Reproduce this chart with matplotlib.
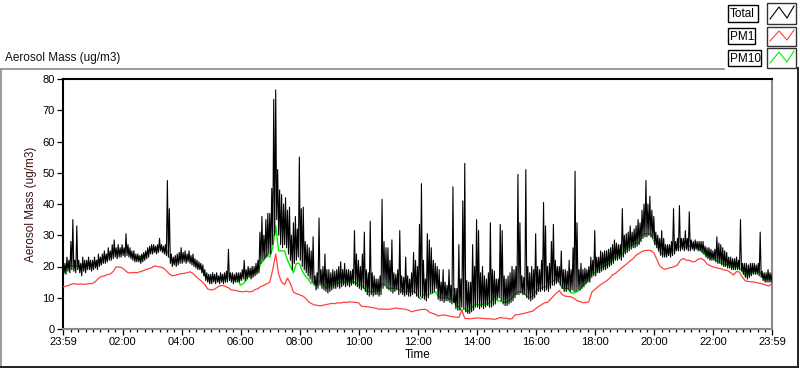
import numpy as np
import matplotlib
matplotlib.use("Agg")
import matplotlib.pyplot as plt
from matplotlib.patches import Rectangle
from matplotlib.lines import Line2D

plt.rcParams['font.family'] = ['Liberation Sans', 'DejaVu Sans']

# ---------------- data ----------------
# Total, upper values: one every 4 minutes from 23:59 (15 per hour) + final point
total_hi = [
    22, 21, 23, 22, 28, 35, 22, 33, 22, 21, 23, 22, 22, 23, 22,
    22, 23, 22, 24, 23, 24, 25, 24, 26, 25, 27, 28.5, 26, 27, 26,
    27, 26, 30.5, 27, 26, 25, 25, 24, 24, 23.5, 24, 24.5, 25, 26, 26.5,
    27, 27, 26.5, 27, 29, 27, 26.5, 27, 47.5, 38.5, 24, 23, 23.5, 24, 24.5,
    26, 24.5, 25, 24, 25, 23.5, 24, 22.5, 22, 21.5, 21, 20.5, 19, 18, 17.5,
    17.5, 18, 17.5, 18, 17, 18, 17.5, 18, 18.5, 25.5, 18, 18, 17.5, 18, 18,
    18, 19, 22, 19, 20, 19.5, 20, 20, 21, 22, 31, 36, 30, 35, 37,
    37, 45, 73.5, 76.5, 51, 44.5, 43, 40, 42, 38, 39, 30, 34, 36, 32,
    55, 38.5, 39, 28, 27, 26, 25, 29.5, 17, 18, 35.5, 19, 20, 24, 19,
    19, 18, 19, 18.5, 19, 20, 21.5, 19, 21, 19, 19, 18.5, 19, 31.5, 24,
    22, 20, 24, 31, 19, 18, 34.5, 18, 17, 16, 16, 17, 41.5, 28, 26,
    26, 22, 28.5, 18, 17.5, 19, 31.5, 17, 16.5, 23, 17, 16, 18, 24.5, 22,
    20, 33.5, 46.5, 22, 16, 30.5, 28.5, 26, 22, 21, 20, 19, 15, 19, 15,
    14, 19, 14, 45.5, 13, 13, 27, 16, 41, 53, 15.5, 15, 15, 27, 20,
    35, 31.5, 18, 20, 17, 16, 18, 34, 19, 18.5, 16, 16, 33.5, 31.5, 17,
    16, 17, 18, 20, 19, 20, 49.5, 34, 17, 16.5, 51, 20, 18, 20, 19,
    30.5, 20, 19, 22, 40.5, 33, 20, 21, 28, 33.5, 22, 20, 20, 25, 19,
    19, 18.5, 22, 19, 26, 50.5, 34, 19, 21, 19, 19.5, 19, 20, 23, 22,
    31.5, 23, 23, 25, 24.5, 25, 25, 25.5, 26, 27, 28.5, 27.5, 27, 27, 38.5,
    30, 30.5, 31, 33, 31, 32, 33, 35, 34, 38, 40, 47.5, 40, 42.5, 38,
    36, 31, 30, 29, 31.5, 29, 27, 27, 27, 28, 38.5, 28, 29, 39.5, 29,
    29, 31.5, 29, 37.5, 28.5, 28, 28.5, 28, 28, 28, 28, 26.5, 26, 26, 25.5,
    25, 25.5, 29.5, 27.5, 27, 26, 25, 24.5, 23, 23, 22.5, 22.5, 23, 22, 35,
    21, 21, 21, 20.5, 21, 21, 21, 20.5, 21, 31, 18.5, 18, 18, 19, 18,
    17.5,
]

# Total, lower values: one every 4 minutes, 2 minutes after each upper value
total_lo = [
    18, 17.5, 18.5, 18, 19, 18.5, 18, 19, 18, 17, 18.5, 18, 19, 19, 18.5,
    19, 19.5, 19, 20, 20.5, 21, 21, 21.5, 22, 22, 22.5, 23, 22.5, 23, 23,
    23.5, 23, 23.5, 23, 22.5, 22, 21.5, 21.5, 21.5, 21, 21.5, 22, 22.5, 23, 24,
    24, 24.5, 24, 24.5, 25, 24.5, 24, 23.5, 23, 21, 20, 20.5, 20, 20.5, 21,
    21, 21.5, 21, 21.5, 21, 20.5, 20, 19.5, 19, 19, 18, 17, 15.5, 15, 14.5,
    14.5, 15, 14.5, 15, 14.5, 15, 14.5, 15, 15, 15.5, 15, 14.5, 15, 15, 15,
    15.5, 16, 15.5, 16, 16.5, 16, 16.5, 17, 17.5, 18, 21, 22, 22.5, 23, 24,
    24, 27, 30, 35, 30, 27, 26, 27, 26, 24, 22, 19, 21, 22, 23,
    22, 20, 19, 18, 17, 16, 15, 14, 12.5, 13, 14, 13, 12.5, 12, 11.5,
    12, 12.5, 13, 13, 13.5, 13, 13.5, 14, 13.5, 14, 13.5, 14, 14.5, 14, 13.5,
    13, 12.5, 13, 12, 11, 10.5, 11, 10.5, 11, 11, 10.5, 11, 13, 14, 13,
    12.5, 12, 11.5, 12, 12.5, 11, 11.5, 11, 10.5, 11, 10.5, 10.5, 11, 11.5, 10.5,
    10, 10.5, 10, 9.5, 9, 10, 11.5, 11.5, 12, 13, 9.5, 9, 9, 8.5, 9,
    9, 8.5, 8, 8.5, 6.5, 6, 6, 7, 6.5, 5.5, 5, 5, 5.5, 6, 7,
    7, 6.5, 7, 6.5, 7, 7.5, 7, 7, 7.5, 8, 9.5, 10, 9, 8, 7.5,
    7.5, 8, 8.5, 9, 10, 11, 11, 11.5, 11, 11, 10, 9.5, 9, 9.5, 10,
    11, 12, 12, 12.5, 12, 12.5, 12, 13, 14, 14, 14.5, 15, 14, 13, 12,
    12, 12.5, 12, 12.5, 12, 12, 12.5, 12.5, 13, 13.5, 14.5, 15, 15, 16.5, 17,
    17, 18, 18, 18.5, 19, 19, 19.5, 20, 20.5, 21, 22, 22, 22.5, 22, 23,
    24, 24.5, 25, 25.5, 26, 26, 26.5, 27, 28, 29, 29.5, 29.5, 30, 29.5, 29,
    27, 26, 25, 23.5, 23, 23, 23, 23.5, 23, 23.5, 24, 25, 25, 25, 25.5,
    25, 25.5, 25, 25, 25.5, 25, 25.5, 25, 25, 24.5, 24, 23, 22.5, 22, 22,
    22, 21.5, 21, 21, 20.5, 20, 20, 19.5, 19.5, 19, 19, 19, 19, 19, 18.5,
    17.5, 16.5, 16, 16.5, 17, 17.5, 17.5, 17.5, 17, 16.5, 15.5, 15, 15, 15, 15,
]

# PM10: one value every 6 minutes (10 per hour) + final point
pm10 = [
    17, 20, 20.5, 20, 20.5, 20, 20.5, 20, 20.5, 20.5,
    21, 21.5, 22, 22.5, 23, 23.5, 24, 24.5, 24.5, 24.5,
    25, 25, 24.5, 23.5, 23, 23, 23, 23.5, 24, 25,
    25.5, 26, 26, 26, 26, 25.5, 23, 22, 22, 22.5,
    22.5, 23, 22.5, 22, 21.5, 21, 20, 19, 17, 16.5,
    16.5, 16.8, 16.3, 16.6, 16.4, 16.8, 17, 16.5, 16.7, 16.6,
    14, 14.5, 15.5, 18, 18.5, 18, 18.5, 21, 22, 24,
    23, 26, 33, 25, 25, 25, 22, 20, 18, 21,
    21, 18.5, 17, 16, 14.5, 15, 14, 15.5, 14.5, 13,
    13.5, 14, 14.5, 14.5, 15, 15, 15, 15.5, 15, 15,
    14, 14, 13, 12, 12, 12, 12, 12.5, 14.5, 14,
    13, 13, 13, 13, 12.5, 12, 12, 12, 12, 12,
    11, 9.5, 11, 11, 11, 11.5, 12, 10.5, 10, 10,
    10, 9.5, 9.5, 7.5, 7, 6, 6.5, 5.5, 6.5, 7.5,
    8, 7.5, 8, 8, 8, 9, 10.5, 9, 9, 8.5,
    8.5, 9, 10, 11, 12, 12, 11.5, 10.5, 10, 10.5,
    12, 13, 13, 13.5, 13.5, 15, 15.5, 16, 15, 13,
    13, 13, 11.5, 11.5, 12, 12.5, 14, 14.5, 16.5, 18,
    18, 19, 19.5, 20, 20.5, 21, 22.5, 23, 23.5, 23.5,
    25, 26, 26.5, 27, 27.5, 27.5, 30, 30.5, 30.5, 30.5,
    28, 26.5, 24.5, 24, 24, 24.5, 24.5, 25.5, 26, 26.5,
    26.5, 26, 26.5, 26.5, 26, 26, 25, 24, 23.5, 23,
    23, 22, 21.5, 21, 20.5, 20.5, 20, 20, 20, 19.5,
    18.5, 17, 17.5, 18, 18.5, 18.5, 18, 16.5, 16, 16,
    16.5,
]

# PM1: one value every 6 minutes (10 per hour) + final point
pm1 = [
    13.5, 13.7, 14.0, 14.4, 14.5, 14.3, 14.4, 14.3, 14.4, 14.5,
    14.6, 15.2, 16.2, 16.8, 17.0, 17.4, 17.6, 18.4, 19.9, 19.8,
    19.6, 18.8, 18.0, 18.0, 18.1, 18.0, 18.3, 18.6, 19.0, 19.3,
    19.6, 20.2, 20.0, 19.8, 19.5, 18.6, 17.6, 17.0, 17.2, 17.5,
    17.7, 17.8, 18.0, 18.3, 17.8, 16.8, 16.0, 15.2, 14.2, 12.8,
    12.5, 12.6, 13.2, 13.8, 13.9, 13.6, 13.2, 12.5, 12.4, 12.2,
    12.0, 11.9, 12.1, 11.9, 12.0, 12.6, 12.9, 13.6, 14.0, 14.5,
    15.0, 19.0, 24.0, 17.5, 15.0, 14.2, 16.3, 14.5, 11.8, 11.3,
    11.0, 10.6, 10.0, 8.8, 8.2, 7.7, 7.6, 7.4, 7.6, 7.8,
    8.0, 8.2, 8.1, 8.4, 8.3, 8.6, 8.5, 8.7, 8.6, 8.5,
    8.4, 7.3, 7.2, 7.1, 7.0, 6.8, 6.6, 6.3, 6.4, 6.3,
    6.3, 6.4, 6.6, 6.7, 6.5, 6.4, 6.3, 6.0, 5.5, 5.8,
    6.0, 6.2, 6.3, 6.2, 5.4, 5.0, 4.7, 4.2, 4.4, 4.5,
    4.3, 4.1, 3.9, 3.8, 3.7, 6.0, 3.4, 3.3, 3.3, 3.4,
    3.5, 3.5, 3.4, 3.3, 3.3, 3.2, 3.1, 3.3, 3.7, 3.5,
    3.5, 3.2, 3.3, 4.5, 4.6, 4.8, 5.0, 5.2, 5.5, 5.7,
    6.5, 7.2, 7.8, 8.4, 8.5, 9.5, 10.5, 11.5, 12.3, 11.0,
    10.5, 10.4, 10.3, 9.8, 9.1, 8.8, 8.4, 8.5, 8.7, 11.8,
    12.6, 13.5, 14.2, 14.8, 15.4, 16.2, 17.3, 17.8, 18.6, 19.5,
    20.2, 21.0, 21.8, 22.5, 23.6, 24.2, 24.8, 25.1, 25.2, 25.1,
    24.4, 22.3, 20.2, 19.4, 19.1, 19.5, 19.7, 20.0, 20.5, 22.0,
    22.6, 22.0, 22.0, 21.5, 21.6, 22.3, 22.6, 22.0, 20.8, 20.3,
    19.9, 19.6, 19.4, 19.2, 18.8, 18.7, 18.0, 17.3, 18.4, 18.2,
    16.5, 15.4, 15.2, 15.1, 15.0, 14.8, 14.6, 14.4, 14.0, 13.8,
    14.6,
]

x_tick_labels = ["23:59", "02:00", "04:00", "06:00", "08:00", "10:00", "12:00",
                 "14:00", "16:00", "18:00", "20:00", "22:00", "23:59"]
y_ticks = [0, 10, 20, 30, 40, 50, 60, 70, 80]
legend_names = ["Total", "PM1", "PM10"]
colors = {"Total": "#000000", "PM1": "#ff4040", "PM10": "#00ee00"}

# Total trace: upper and lower readings interleaved in time (minutes since 23:59)
n_lo = len(total_lo)
t_tot = np.empty(len(total_hi) + n_lo)
v_tot = np.empty(len(total_hi) + n_lo)
t_tot[0::2] = np.arange(len(total_hi)) * 4
v_tot[0::2] = total_hi
t_tot[1::2] = np.arange(n_lo) * 4 + 2
v_tot[1::2] = total_lo
t_6 = np.arange(len(pm10)) * 6

W, H = 800, 369
fig = plt.figure(figsize=(W / 100, H / 100), dpi=100)
fig.patch.set_facecolor("white")

ax = fig.add_axes([63 / W, 1 - 329 / H, (772 - 63) / W, (329 - 79) / H])
ax.plot(t_6, pm10, color=colors["PM10"], lw=1.0, zorder=2)
ax.plot(t_tot, v_tot, color=colors["Total"], lw=0.8, zorder=3)
ax.plot(t_6, pm1, color=colors["PM1"], lw=0.9, zorder=4)

ax.set_xlim(0, 1440)
ax.set_ylim(0, 80)
major = [0] + [121 + 120 * k for k in range(11)] + [1440]
ax.set_xticks(major)
ax.set_xticklabels(x_tick_labels)
minor = [m for m in range(1, 1440, 15) if all(abs(m - M) > 3 for M in major)]
ax.set_xticks(minor, minor=True)
ax.set_yticks(y_ticks)
ax.tick_params(axis='both', which='major', labelsize=8, length=4, width=0.9,
               colors='black', pad=2)
ax.tick_params(axis='x', which='minor', length=2.5, width=0.9, colors='black')
for s in ["left", "top"]:
    ax.spines[s].set_color("black")
    ax.spines[s].set_linewidth(1.5)
for s in ["right", "bottom"]:
    ax.spines[s].set_color("#8a8a8a")
    ax.spines[s].set_linewidth(1.5)
ax.set_xlabel("Time", fontsize=8.5, labelpad=1)
ax.set_ylabel("Aerosol Mass (ug/m3)", fontsize=8.5, color="#3a1010", labelpad=4)

# overlay for frame, title and legend in pixel coordinates
ov = fig.add_axes([0, 0, 1, 1], zorder=-1)
ov.set_xlim(0, W)
ov.set_ylim(H, 0)
ov.axis("off")
ov.plot([1, 1], [69, 367], color="#8a8a8a", lw=1.2)
ov.plot([1, 724], [69, 69], color="#8a8a8a", lw=1.2)
ov.plot([798, 798], [68, 367], color="#202020", lw=1.4)
ov.plot([1, 798], [367, 367], color="#202020", lw=1.4)
ov.text(5, 58, "Aerosol Mass (ug/m3)", fontsize=8.5, ha="left", va="center", color="#111111")

leg = fig.add_axes([0, 0, 1, 1], zorder=5)
leg.set_xlim(0, W)
leg.set_ylim(H, 0)
leg.axis("off")
label_boxes = [(5, 22, 758), (28, 44, 755), (50, 66, 761)]
swatch_boxes = [(3, 24), (27, 46), (48, 68)]
for name, (y0, y1, xr), (s0, s1) in zip(legend_names, label_boxes, swatch_boxes):
    leg.add_patch(Rectangle((728, y0), xr - 728, y1 - y0, fill=False, ec="black", lw=1.0))
    leg.text(730, (y0 + y1) / 2 + 0.5, name, fontsize=8.5, ha="left", va="center")
    leg.add_patch(Rectangle((767, s0), 29, s1 - s0, fill=False, ec="#333333", lw=1.0))
    zx = [770, 779, 787, 794]
    zy = [s1 - 5, s0 + 4, s1 - 6, s0 + 3]
    leg.add_line(Line2D(zx, zy, color=colors[name], lw=0.8))

fig.savefig("out.png", dpi=100, facecolor="white")
